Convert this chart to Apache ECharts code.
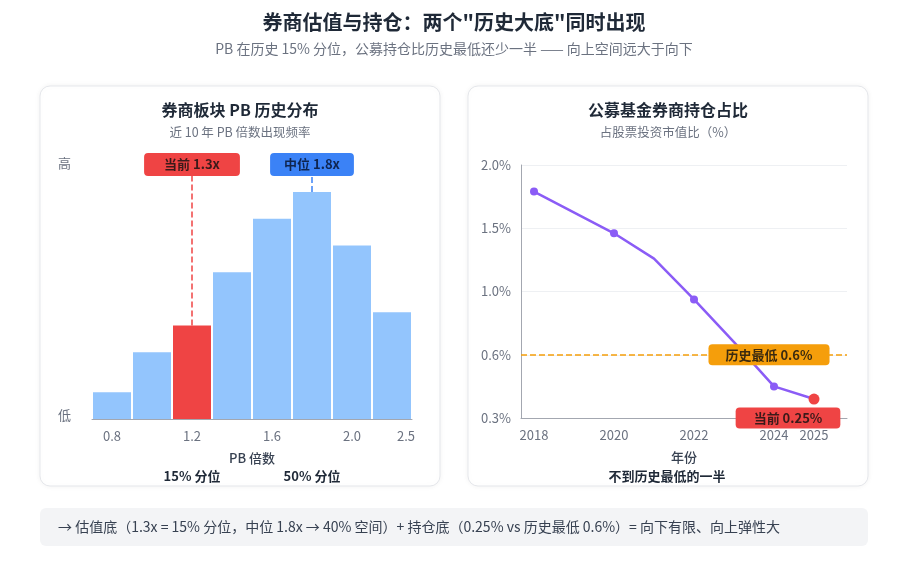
<!DOCTYPE html>
<html lang="zh">
<head>
  <meta charset="UTF-8" />
  <title>券商估值与持仓</title>
  <script src="https://cdn.jsdelivr.net/npm/echarts@6/dist/echarts.min.js"></script>
  <style>
    html, body { margin: 0; padding: 0; background: #fff; }
    #main { width: 908px; height: 568px; }
  </style>
</head>
<body>
  <div id="main"></div>
  <script type="text/javascript">
    // 左图：PB 分布（频率为相对值，高/低）
    const pbBins = ['0.8', '1.0', '1.2', '1.4', '1.6', '1.8', '2.0', '2.5']
    const pbFreq = [10, 25, 35, 55, 75, 85, 65, 40]
    const pbShownTicks = ['0.8', '1.2', '1.6', '2.0', '2.5']
    const pbPctTicks = { '1.2': '15% 分位', '1.8': '50% 分位' }
    const pbCurrentBin = '1.2'
    const pbMedianBin = '1.8'

    // 右图：公募基金券商持仓占比（%）
    const years = [2018, 2020, 2021, 2022, 2023, 2024, 2025]
    const holding = [1.79, 1.46, 1.26, 0.95, 0.68, 0.45, 0.39]
    const markedYears = [2018, 2020, 2022, 2024]
    const yTicks = [0.3, 0.6, 1.0, 1.5, 2.0]
    const yearTicks = [2018, 2020, 2022, 2024, 2025]
    const histLow = 0.6

    const FONT = "'Noto Sans CJK SC', 'Noto Sans', sans-serif"
    const RED = '#ef4444', BLUE = '#3b82f6', LIGHT = '#93c5fd'
    const PURPLE = '#8b5cf6', ORANGE = '#f59e0b'
    const GRAY = '#6b7280', DARK = '#1f2937', AXIS = '#a3a7b0'

    // 右图纵轴刻度等距排列，按刻度分段映射
    function toAxis(v) {
      let i = 0
      while (i < yTicks.length - 2 && v > yTicks[i + 1]) i++
      return i + (v - yTicks[i]) / (yTicks[i + 1] - yTicks[i])
    }

    const lastYear = years[years.length - 1]

    function text(x, y, str, font, color, align) {
      return {
        type: 'text', x: x, y: y, z: 10,
        style: { text: str, font: font, fill: color, textAlign: align || 'center', textVerticalAlign: 'middle' }
      }
    }

    var myChart = echarts.init(document.getElementById('main'))

    const option = {
      backgroundColor: '#fff',
      textStyle: { fontFamily: FONT },
      animation: false,
      graphic: [
        { type: 'rect', z: -1, shape: { x: 40, y: 86, width: 400, height: 400, r: 10 },
          style: { fill: '#fff', stroke: '#e5e7eb', lineWidth: 1, shadowBlur: 6, shadowColor: 'rgba(0,0,0,0.05)' } },
        { type: 'rect', z: -1, shape: { x: 468, y: 86, width: 400, height: 400, r: 10 },
          style: { fill: '#fff', stroke: '#e5e7eb', lineWidth: 1, shadowBlur: 6, shadowColor: 'rgba(0,0,0,0.05)' } },
        { type: 'rect', z: -1, shape: { x: 40, y: 508, width: 828, height: 38, r: 6 },
          style: { fill: '#f3f4f6' } },
        text(454, 22, '券商估值与持仓：两个"历史大底"同时出现', 'bold 20px ' + FONT, DARK),
        text(454, 49, 'PB 在历史 15% 分位，公募持仓比历史最低还少一半 —— 向上空间远大于向下', '14px ' + FONT, GRAY),
        text(240, 110, '券商板块 PB 历史分布', 'bold 16px ' + FONT, DARK),
        text(240, 132, '近 10 年 PB 倍数出现频率', '12.5px ' + FONT, GRAY),
        text(668, 110, '公募基金券商持仓占比', 'bold 16px ' + FONT, DARK),
        text(668, 132, '占股票投资市值比（%）', '12.5px ' + FONT, GRAY),
        text(667, 476, '不到历史最低的一半', 'bold 13px ' + FONT, DARK),
        text(58, 527, '→ 估值底（1.3x = 15% 分位，中位 1.8x → 40% 空间）+ 持仓底（0.25% vs 历史最低 0.6%）= 向下有限、向上弹性大', '14px ' + FONT, '#374151', 'left')
      ],
      grid: [
        { left: 92, right: 496, top: 152, bottom: 149 },
        { left: 521, right: 61, top: 165, bottom: 150 }
      ],
      xAxis: [
        {
          type: 'category', gridIndex: 0, data: pbBins,
          axisLine: { lineStyle: { color: AXIS } },
          axisTick: { show: false },
          axisLabel: {
            interval: 0, color: GRAY, fontSize: 13, margin: 11,
            formatter: v => v === '2.5' ? '{r|2.5}' : (pbShownTicks.includes(v) ? v : ''),
            rich: { r: { color: GRAY, fontSize: 13, padding: [0, 0, 0, 28] } }
          },
          name: 'PB 倍数', nameLocation: 'middle', nameGap: 33,
          nameTextStyle: { color: '#374151', fontSize: 13, fontWeight: 500 }
        },
        {
          type: 'category', gridIndex: 0, data: pbBins, position: 'bottom', offset: 43,
          axisLine: { show: false }, axisTick: { show: false },
          axisLabel: {
            interval: 0, color: DARK, fontSize: 13, fontWeight: 'bold',
            formatter: v => pbPctTicks[v] || ''
          }
        },
        {
          type: 'value', gridIndex: 1, min: 2017.675, max: 2025.825,
          axisLine: { lineStyle: { color: AXIS } },
          axisTick: { show: false },
          splitLine: { show: false },
          axisLabel: { customValues: yearTicks, color: GRAY, fontSize: 13, margin: 11, formatter: v => String(v) },
          name: '年份', nameLocation: 'middle', nameGap: 33,
          nameTextStyle: { color: '#374151', fontSize: 13, fontWeight: 500 }
        }
      ],
      yAxis: [
        {
          type: 'value', gridIndex: 0, min: 0, max: 100,
          axisLine: { show: false }, axisTick: { show: false }, splitLine: { show: false },
          axisLabel: { customValues: [1.5, 96], color: GRAY, fontSize: 13, margin: 21, formatter: v => v < 50 ? '低' : '高' }
        },
        {
          type: 'value', gridIndex: 1, min: 0, max: yTicks.length - 1, interval: 1,
          axisLine: { show: true, lineStyle: { color: AXIS } },
          axisTick: { show: false },
          splitLine: { lineStyle: { color: '#eef0f3' } },
          axisLabel: { color: GRAY, fontSize: 13, margin: 10, formatter: v => yTicks[v].toFixed(1) + '%' }
        }
      ],
      series: [
        {
          type: 'bar', xAxisIndex: 0, yAxisIndex: 0,
          barCategoryGap: '5%',
          data: pbFreq.map((v, i) => ({
            value: v,
            itemStyle: { color: pbBins[i] === pbCurrentBin ? RED : LIGHT }
          })),
          markLine: {
            silent: true, symbol: 'none',
            data: [
              [
                {
                  coord: [pbCurrentBin, pbFreq[pbBins.indexOf(pbCurrentBin)]],
                  lineStyle: { color: RED, type: 'dashed', width: 1.5 },
                  label: {
                    show: true, position: 'end', distance: 0, formatter: '当前 1.3x',
                    backgroundColor: RED, color: '#3b1a1a', fontSize: 13, fontWeight: 'bold',
                    padding: [5, 20, 5, 20], borderRadius: 4
                  }
                },
                { coord: [pbCurrentBin, 91] }
              ],
              [
                {
                  coord: [pbMedianBin, pbFreq[pbBins.indexOf(pbMedianBin)]],
                  lineStyle: { color: BLUE, type: 'dashed', width: 1.5 },
                  label: {
                    show: true, position: 'end', distance: 0, formatter: '中位 1.8x',
                    backgroundColor: BLUE, color: '#0f2550', fontSize: 13, fontWeight: 'bold',
                    padding: [5, 14, 5, 14], borderRadius: 4
                  }
                },
                { coord: [pbMedianBin, 91] }
              ]
            ]
          }
        },
        {
          // 注释：历史最低线与标签
          type: 'line', xAxisIndex: 2, yAxisIndex: 1, z: 1, data: [],
          markLine: {
            silent: true, symbol: 'none', label: { show: false },
            lineStyle: { color: ORANGE, type: 'dashed', width: 1.5 },
            data: [{ yAxis: toAxis(histLow) }]
          },
          markPoint: {
            silent: true, symbol: 'circle', symbolSize: 1,
            itemStyle: { color: 'transparent' },
            data: [
              {
                coord: [2023.875, toAxis(histLow)],
                label: {
                  show: true, position: 'inside', formatter: '历史最低 0.6%',
                  backgroundColor: ORANGE, color: '#3b2a0f', fontSize: 13, fontWeight: 'bold',
                  padding: [4, 17], borderRadius: 4
                }
              },
              {
                coord: [2024.35, 0],
                label: {
                  show: true, position: 'inside', formatter: '当前 0.25%',
                  backgroundColor: RED, color: '#3b1a1a', fontSize: 13, fontWeight: 'bold',
                  padding: [4, 18], borderRadius: 4
                }
              }
            ]
          }
        },
        {
          type: 'line', xAxisIndex: 2, yAxisIndex: 1, z: 3,
          lineStyle: { color: PURPLE, width: 2.5 },
          itemStyle: { color: PURPLE },
          symbol: 'circle', symbolSize: 8,
          data: years.map((y, i) => {
            const item = { value: [y, toAxis(holding[i])] }
            if (y === lastYear) {
              item.symbolSize = 11
              item.itemStyle = { color: RED }
            } else if (!markedYears.includes(y)) {
              item.symbol = 'none'
            }
            return item
          })
        }
      ]
    }

    myChart.setOption(option)
  </script>
</body>
</html>
